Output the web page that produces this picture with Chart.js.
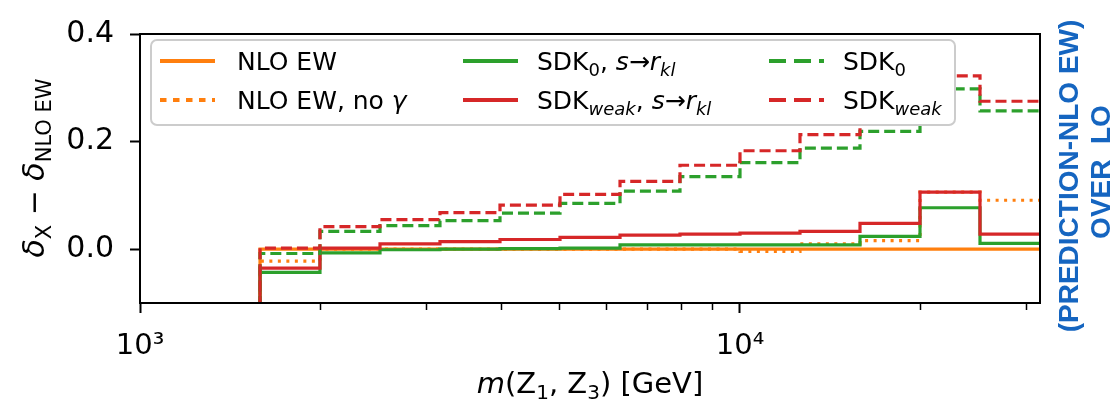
<!DOCTYPE html>
<html>
<head>
<meta charset="utf-8">
<script src="https://cdn.jsdelivr.net/npm/chart.js@4.4.1/dist/chart.umd.min.js"></script>
<style>
  html, body { margin: 0; padding: 0; background: #fff; }
  canvas { display: block; }
</style>
</head>
<body>
<canvas id="chart" width="1113" height="405"></canvas>
<script>
// bin edges of m(Z1,Z3) in GeV (log-spaced)
const binEdges = [1585, 1995, 2512, 3162, 3981, 5012, 6310, 7943, 10000, 12589, 15849, 19953, 25119, 31623];

// delta_X - delta_NLO EW per bin
const nloEw         = [0, 0, 0, 0, 0, 0, 0, 0, 0, 0, 0, 0, 0];
const nloEwNoGamma  = [-0.022, 0.000, 0.000, 0.000, 0.000, 0.000, 0.000, 0.000, -0.004, 0.010, 0.016, 0.106, 0.091];
const sdk0Rkl       = [-0.043, -0.007, -0.001, 0.000, 0.001, 0.002, 0.008, 0.008, 0.008, 0.008, 0.024, 0.077, 0.011];
const sdkWeakRkl    = [-0.035, 0.002, 0.010, 0.014, 0.018, 0.022, 0.026, 0.028, 0.030, 0.033, 0.048, 0.106, 0.028];
const sdk0          = [-0.008, 0.033, 0.044, 0.053, 0.067, 0.085, 0.108, 0.135, 0.161, 0.188, 0.219, 0.298, 0.257];
const sdkWeak       = [0.002, 0.042, 0.055, 0.068, 0.082, 0.102, 0.126, 0.156, 0.183, 0.213, 0.248, 0.322, 0.275];

// the histograms start from far below the frame at the first edge
const underflow = -1;

const xMajorTicks = [1000, 10000];
const xTickLabels = ['10³', '10⁴'];
const xMinorTicks = [2000, 3000, 4000, 5000, 6000, 7000, 8000, 9000, 20000, 30000];
const yTicks = [0.0, 0.2, 0.4];

const FONT = '"DejaVu Sans", sans-serif';
const ORANGE = '#ff7f0e', GREEN = '#2ca02c', RED = '#d62728';

function stairs(values) {
    const pts = [{ x: binEdges[0], y: underflow }];
    values.forEach((v, i) => pts.push({ x: binEdges[i], y: v }));
    pts.push({ x: binEdges[binEdges.length - 1], y: values[values.length - 1] });
    return pts;
}

// legend text: [text, flags] with i = italic, s = subscript
const series = [
    { data: nloEw,        color: ORANGE, style: 'solid',  col: 0, row: 0, text: [['NLO EW']] },
    { data: nloEwNoGamma, color: ORANGE, style: 'dotted', col: 0, row: 1, text: [['NLO EW, no '], ['γ', 'i']] },
    { data: sdk0Rkl,      color: GREEN,  style: 'solid',  col: 1, row: 0, text: [['SDK'], ['0', 's'], [', '], ['s', 'i'], ['→'], ['r', 'i'], ['kl', 'is']] },
    { data: sdkWeakRkl,   color: RED,    style: 'solid',  col: 1, row: 1, text: [['SDK'], ['weak', 'is'], [', '], ['s', 'i'], ['→'], ['r', 'i'], ['kl', 'is']] },
    { data: sdk0,         color: GREEN,  style: 'dashed', col: 2, row: 0, text: [['SDK'], ['0', 's']] },
    { data: sdkWeak,      color: RED,    style: 'dashed', col: 2, row: 1, text: [['SDK'], ['weak', 'is']] }
];
const plotDash   = { solid: [], dashed: [11, 5], dotted: [3, 5.5] };
const legendDash = { solid: [], dashed: [17, 8], dotted: [6.5, 6.5] };

function partFont(p, size) {
    const f = p[1] || '';
    const s = f.includes('s') ? Math.round(size * 0.7) : size;
    return (f.includes('i') ? 'italic ' : '') + s + 'px ' + FONT;
}

function drawRich(ctx, parts, x, y, size, align) {
    let w = 0;
    parts.forEach(p => { ctx.font = partFont(p, size); w += ctx.measureText(p[0]).width; });
    let cx = align === 'center' ? x - w / 2 : x;
    ctx.textAlign = 'left';
    ctx.textBaseline = 'alphabetic';
    parts.forEach(p => {
        ctx.font = partFont(p, size);
        const dy = (p[1] || '').includes('s') ? size * 0.22 : 0;
        ctx.fillText(p[0], cx, y + dy);
        cx += ctx.measureText(p[0]).width;
    });
}

const decorations = {
    id: 'decorations',
    afterDatasetsDraw(chart) {
        const { ctx, chartArea: a } = chart;
        ctx.save();
        // frame
        ctx.strokeStyle = '#000';
        ctx.lineWidth = 2;
        ctx.strokeRect(a.left, a.top, a.right - a.left, a.bottom - a.top);

        // legend
        ctx.beginPath();
        ctx.roundRect(151, 40, 804, 85, 6);
        ctx.fillStyle = '#fff';
        ctx.fill();
        ctx.strokeStyle = '#cccccc';
        ctx.lineWidth = 2;
        ctx.stroke();

        const handleX = [160, 463, 769];
        const textX = [237, 537, 843];
        const rowY = [61, 100];
        series.forEach(s => {
            ctx.beginPath();
            ctx.setLineDash(legendDash[s.style]);
            ctx.strokeStyle = s.color;
            ctx.lineWidth = 4;
            ctx.moveTo(handleX[s.col], rowY[s.row]);
            ctx.lineTo(handleX[s.col] + 55, rowY[s.row]);
            ctx.stroke();
            ctx.setLineDash([]);
            ctx.fillStyle = '#000';
            drawRich(ctx, s.text, textX[s.col], rowY[s.row] + 9, 25, 'left');
        });

        // axis titles
        ctx.fillStyle = '#000';
        drawRich(ctx, [['m', 'i'], ['(Z'], ['1', 's'], [', Z'], ['3', 's'], [') [GeV]']], (a.left + a.right) / 2, 393, 29, 'center');

        ctx.save();
        ctx.translate(44, 168);
        ctx.rotate(-Math.PI / 2);
        drawRich(ctx, [['δ', 'i'], ['X', 's'], [' − '], ['δ', 'i'], ['NLO EW', 's']], 0, 0, 30, 'center');
        ctx.restore();

        // note on the right side
        ctx.save();
        ctx.fillStyle = '#1565c0';
        ctx.font = 'bold 28px "Liberation Sans", Arial, sans-serif';
        ctx.textAlign = 'center';
        ctx.textBaseline = 'alphabetic';
        ctx.translate(1078, 176);
        ctx.rotate(-Math.PI / 2);
        ctx.fillText('(PREDICTION-NLO EW)', 0, 0);
        ctx.fillText('OVER  LO', 4, 32);
        ctx.restore();

        ctx.restore();
    }
};

new Chart(document.getElementById('chart'), {
    type: 'line',
    data: {
        datasets: series.map((s, i) => ({
            data: stairs(s.data),
            borderColor: s.color,
            borderWidth: 3.2,
            borderDash: plotDash[s.style],
            borderCapStyle: 'butt',
            borderJoinStyle: 'miter',
            stepped: true,
            pointRadius: 0,
            fill: false,
            order: series.length - i
        }))
    },
    options: {
        responsive: false,
        animation: false,
        devicePixelRatio: 1,
        layout: { padding: { top: 27, right: 73, left: 0, bottom: 0 } },
        plugins: { legend: { display: false }, tooltip: { enabled: false } },
        scales: {
            x: {
                type: 'logarithmic',
                min: 1000,
                max: 31623,
                afterBuildTicks: scale => {
                    scale.ticks = xMajorTicks.concat(xMinorTicks).sort((a, b) => a - b)
                        .map(v => ({ value: v, major: xMajorTicks.includes(v) }));
                },
                afterFit: scale => { scale.height = 102; },
                ticks: {
                    autoSkip: false,
                    maxRotation: 0,
                    color: '#000',
                    padding: 16,
                    font: { family: FONT, size: 29 },
                    callback: v => {
                        const i = xMajorTicks.indexOf(v);
                        return i >= 0 ? xTickLabels[i] : '';
                    }
                },
                grid: {
                    drawOnChartArea: false,
                    tickLength: 10,
                    tickColor: '#000',
                    tickWidth: c => xMajorTicks.includes(c.tick && c.tick.value) ? 2 : 1.5,
                    tickBorderDash: c => xMajorTicks.includes(c.tick && c.tick.value) ? [] : [6, 30]
                },
                border: { display: true, color: '#000', width: 2 }
            },
            y: {
                min: -0.1,
                max: 0.4,
                afterBuildTicks: scale => { scale.ticks = yTicks.map(v => ({ value: v })); },
                afterFit: scale => { scale.width = 140; },
                ticks: {
                    color: '#000',
                    padding: 16,
                    font: { family: FONT, size: 30 },
                    callback: v => v.toFixed(1)
                },
                grid: { drawOnChartArea: false, tickLength: 10, tickColor: '#000', tickWidth: 2 },
                border: { display: true, color: '#000', width: 2 }
            }
        }
    },
    plugins: [decorations]
});
</script>
</body>
</html>
